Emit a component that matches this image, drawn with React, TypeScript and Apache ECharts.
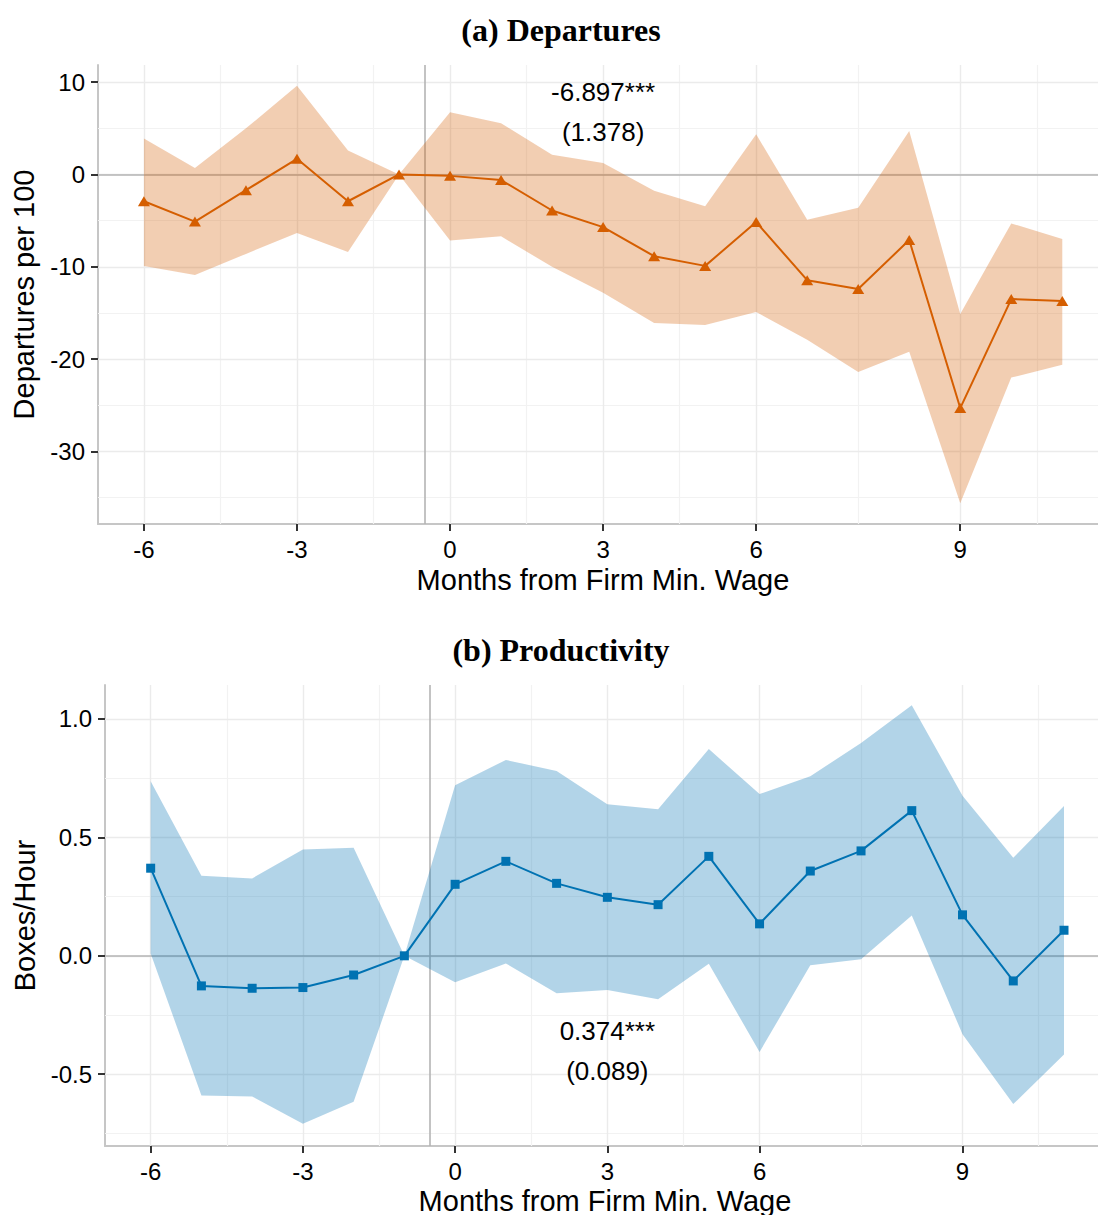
import { useEffect, useRef } from "react";
import * as echarts from "echarts";

// x positions of the estimates (evenly spaced periods) and the axis ticks
const xPos = [-6, -5, -4, -3, -2, -1, 0, 1, 2, 3, 4, 5, 6, 7, 8, 9, 10, 11, 12];
const xTickValues = [-6, -3, 0, 3, 6, 10];
const xTickLabels = ["-6", "-3", "0", "3", "6", "9"];
const xMinorValues = [-4.5, -1.5, 1.5, 4.5, 8, 11.5];
const eventLine = -0.5;
const xTitle = "Months from Firm Min. Wage";

// (a) Departures per 100
const depEst = [-2.9, -5.1, -1.7, 1.7, -2.9, 0, -0.15, -0.6, -3.9, -5.7, -8.85, -9.9, -5.15, -11.45, -12.4, -7.1, -25.3, -13.5, -13.7];
const depUpper = [3.9, 0.7, 5.0, 9.6, 2.6, 0, 6.75, 5.55, 2.15, 1.25, -1.75, -3.45, 4.35, -4.9, -3.6, 4.7, -15.1, -5.3, -7.0];
const depLower = [-9.9, -10.9, -8.6, -6.35, -8.4, 0, -7.15, -6.7, -10.0, -12.8, -16.1, -16.3, -14.9, -17.9, -21.4, -19.2, -35.6, -22.0, -20.6];
const depTicks = [-30, -20, -10, 0, 10];
const depMinor = [-35, -25, -15, -5, 5];
const depNote = ["-6.897***", "(1.378)"];
const depNotePos = [3, 6.8];

// (b) Productivity, boxes per hour
const prodEst = [0.37, -0.127, -0.137, -0.134, -0.081, 0, 0.302, 0.399, 0.306, 0.247, 0.216, 0.42, 0.135, 0.358, 0.443, 0.613, 0.173, -0.106, 0.108];
const prodUpper = [0.737, 0.338, 0.327, 0.449, 0.456, 0, 0.72, 0.827, 0.78, 0.64, 0.619, 0.873, 0.683, 0.758, 0.899, 1.058, 0.676, 0.414, 0.633];
const prodLower = [0.01, -0.59, -0.594, -0.709, -0.616, 0, -0.112, -0.032, -0.158, -0.144, -0.183, -0.033, -0.406, -0.04, -0.014, 0.17, -0.331, -0.626, -0.417];
const prodTicks = [-0.5, 0, 0.5, 1.0];
const prodMinor = [-0.75, -0.25, 0.25, 0.75];
const prodNote = ["0.374***", "(0.089)"];
const prodNotePos = [3, -0.4];

const SANS = "'Liberation Sans', Arial, Helvetica, sans-serif";
const SERIF = "'Liberation Serif', 'Times New Roman', serif";

const ORANGE = "#D55E00";
const BLUE = "#0072B2";

function buildPanel(
  idx: number,
  xMax: number,
  est: number[],
  upper: number[],
  lower: number[],
  yTicks: number[],
  yMinor: number[],
  yMin: number,
  yMax: number,
  yName: string,
  yFmt: (v: number) => string,
  color: string,
  fill: string,
  symbol: string,
  symbolSize: number | number[],
  note: string[],
  notePos: number[]
) {
  const xAxis = {
    type: "value",
    gridIndex: idx,
    min: -6.9,
    max: xMax,
    axisLine: { show: true, onZero: false, lineStyle: { color: "#C6C6C6", width: 2 } },
    axisTick: { show: true, customValues: xTickValues, length: 7, lineStyle: { color: "#333333", width: 2 } },
    axisLabel: {
      customValues: xTickValues,
      formatter: (v: number) => {
        const i = xTickValues.indexOf(v);
        return i >= 0 ? xTickLabels[i] : "";
      },
      fontSize: 24,
      color: "#000",
      fontFamily: SANS,
      margin: 13,
    },
    splitLine: { show: false },
  };
  const yAxis = {
    type: "value",
    gridIndex: idx,
    min: yMin,
    max: yMax,
    axisLine: { show: true, onZero: false, lineStyle: { color: "#C6C6C6", width: 2 } },
    axisTick: { show: true, customValues: yTicks, length: 7, lineStyle: { color: "#333333", width: 2 } },
    axisLabel: {
      customValues: yTicks,
      formatter: yFmt,
      fontSize: 24,
      color: "#000",
      fontFamily: SANS,
      margin: 13,
    },
    splitLine: { show: false },
    name: yName,
    nameLocation: "middle",
    nameGap: 60,
    nameRotate: 90,
    nameTextStyle: { fontSize: 29, color: "#000", fontFamily: SANS },
  };

  const major = { color: "#EBEBEB", width: 1.4, type: "solid" };
  const minor = { color: "#F2F2F2", width: 1.2, type: "solid" };
  const refStyle = { color: "#B4B4B4", width: 1.6, type: "solid" };
  const lineData: any[] = [];
  yMinor.forEach((v) => lineData.push({ yAxis: v, lineStyle: minor }));
  xMinorValues.forEach((v) => lineData.push({ xAxis: v, lineStyle: minor }));
  yTicks.forEach((v) => lineData.push({ yAxis: v, lineStyle: major }));
  xTickValues.forEach((v) => lineData.push({ xAxis: v, lineStyle: major }));
  lineData.push({ yAxis: 0, lineStyle: refStyle });
  lineData.push({ xAxis: eventLine, lineStyle: refStyle });

  const pts = xPos.map((x, i) => [x, est[i]]);

  const series: any[] = [
    {
      type: "line",
      xAxisIndex: idx,
      yAxisIndex: idx,
      data: pts,
      symbol: "none",
      lineStyle: { opacity: 0, width: 0 },
      silent: true,
      z: 1,
      markLine: {
        silent: true,
        z: 1,
        symbol: ["none", "none"],
        label: { show: false },
        emphasis: { disabled: true },
        data: lineData,
      },
    },
    {
      type: "custom",
      xAxisIndex: idx,
      yAxisIndex: idx,
      silent: true,
      z: 2,
      data: [[xPos[0], 0]],
      renderItem: (_params: any, api: any) => {
        const poly: number[][] = [];
        for (let i = 0; i < xPos.length; i++) poly.push(api.coord([xPos[i], upper[i]]));
        for (let i = xPos.length - 1; i >= 0; i--) poly.push(api.coord([xPos[i], lower[i]]));
        return { type: "polygon", shape: { points: poly }, style: { fill } };
      },
    },
    {
      type: "line",
      xAxisIndex: idx,
      yAxisIndex: idx,
      data: pts,
      z: 3,
      symbol,
      symbolSize,
      lineStyle: { color, width: 2 },
      itemStyle: { color },
    },
    {
      type: "scatter",
      xAxisIndex: idx,
      yAxisIndex: idx,
      z: 4,
      silent: true,
      symbolSize: 0,
      itemStyle: { color: "rgba(0,0,0,0)" },
      data: [notePos],
      label: {
        show: true,
        position: "inside",
        formatter: note.join("\n"),
        fontSize: 26,
        lineHeight: 40,
        color: "#000000",
        textBorderWidth: 0,
        opacity: 1,
        fontFamily: SANS,
        align: "center",
        verticalAlign: "middle",
      },
    },
  ];
  return { xAxis, yAxis, series };
}

function textEl(text: string, x: number, y: number, size: number, family: string, bold: boolean) {
  return {
    type: "text",
    x,
    y,
    style: {
      text,
      align: "center",
      verticalAlign: "middle",
      fontSize: size,
      fontWeight: bold ? "bold" : "normal",
      fontFamily: family,
      fill: "#000",
    },
  };
}

export default function App() {
  const ref = useRef<HTMLDivElement>(null);
  useEffect(() => {
    document.body.style.margin = "0";
    if (!ref.current) return;
    const chart = echarts.init(ref.current, undefined, { renderer: "svg" });
    const a = buildPanel(
      0, 12.7, depEst, depUpper, depLower, depTicks, depMinor, -37.86, 11.86,
      "Departures per 100", (v: number) => String(v), ORANGE, "rgba(213,94,0,0.3)",
      "triangle", [12, 10], depNote, depNotePos
    );
    const b = buildPanel(
      1, 12.67, prodEst, prodUpper, prodLower, prodTicks, prodMinor, -0.803, 1.1435,
      "Boxes/Hour", (v: number) => v.toFixed(1), BLUE, "rgba(0,114,178,0.3)",
      "rect", 9, prodNote, prodNotePos
    );
    chart.setOption({
      animation: false,
      backgroundColor: "#fff",
      grid: [
        { left: 98, top: 65, right: 0, height: 459 },
        { left: 105, top: 685, right: 0, height: 461 },
      ],
      xAxis: [a.xAxis, b.xAxis],
      yAxis: [a.yAxis, b.yAxis],
      series: [...a.series, ...b.series],
      graphic: [
        textEl("(a) Departures", 561, 30, 32, SERIF, true),
        textEl("(b) Productivity", 561, 650, 32, SERIF, true),
        textEl(xTitle, 603, 580, 29, SANS, false),
        textEl(xTitle, 605, 1201, 29, SANS, false),
      ],
    });
    return () => chart.dispose();
  }, []);
  return <div ref={ref} style={{ width: 1098, height: 1215, overflow: "hidden" }} />;
}
